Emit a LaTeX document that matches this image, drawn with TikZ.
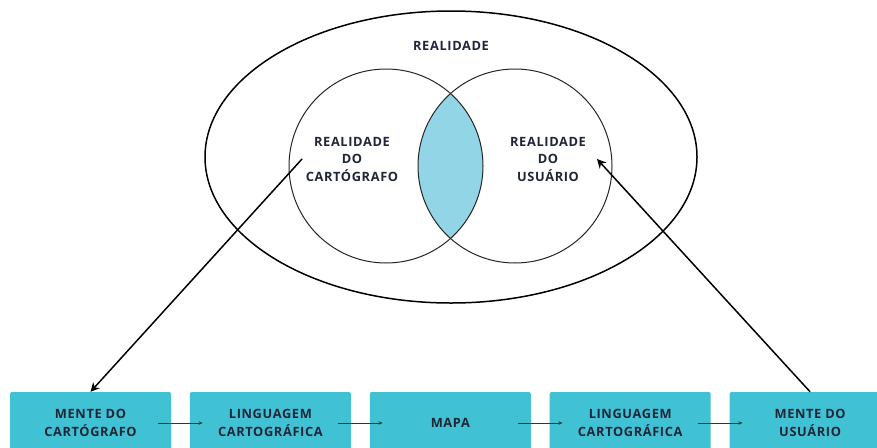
\documentclass[tikz,border=0pt]{standalone}
\usepackage{fontspec}
\setmainfont{Open Sans}[LetterSpace=5]
\usetikzlibrary{positioning,arrows.meta}
\definecolor{boxcyan}{RGB}{64,193,212}
\definecolor{lenscyan}{RGB}{146,213,230}
\definecolor{inkblue}{RGB}{30,38,56}

\begin{document}
\begin{tikzpicture}[x=1pt,y=-1pt,
  every node/.style={font=\bfseries\fontsize{12.8}{17.5}\selectfont, text=inkblue, align=center},
  mbox/.style={fill=boxcyan, rounded corners=2pt, minimum width=161pt, minimum height=62pt, inner sep=0pt},
  flow/.style={-{Stealth[length=4pt,width=3.5pt]}, black!80, line width=0.8pt},
  bigarrow/.style={-{Stealth[length=9pt,width=9pt]}, line width=1.5pt}]
\useasboundingbox (0,0) rectangle (877,447);
%realidade
\draw[line width=1.5pt] (451,157) ellipse [x radius=246, y radius=146];
\begin{scope}
\clip (386,166) circle [radius=97];
\fill[lenscyan] (515,166) circle [radius=97];
\end{scope}
\draw[black!85, line width=1pt] (386,166) circle [radius=97];
\draw[black!85, line width=1pt] (515,166) circle [radius=97];
\node (real) at (451,46) {REALIDADE};
\node (cart) at (352,159) {REALIDADE\\DO\\CARTÓGRAFO};
\node (usu) at (548,159) {REALIDADE\\DO\\USUÁRIO};
%boxes
\node[mbox] (m1) at (90.5,423) {MENTE DO\\CARTÓGRAFO};
\node[mbox, right=18.5pt of m1] (m2) {LINGUAGEM\\CARTOGRÁFICA};
\node[mbox, right=18.5pt of m2] (m3) {MAPA};
\node[mbox, right=18.5pt of m3] (m4) {LINGUAGEM\\CARTOGRÁFICA};
\node[mbox, right=18.5pt of m4] (m5) {MENTE DO\\USUÁRIO};
\draw[flow] ([xshift=-13pt]m1.east) -- ([xshift=13pt]m2.west);
\draw[flow] ([xshift=-13pt]m2.east) -- ([xshift=13pt]m3.west);
\draw[flow] ([xshift=-13pt]m3.east) -- ([xshift=13pt]m4.west);
\draw[flow] ([xshift=-13pt]m4.east) -- ([xshift=13pt]m5.west);
%big arrows
\coordinate (cs) at (302,159);
\coordinate (us) at (597,159);
\draw[bigarrow] (cs) -- (m1.north);
\draw[bigarrow] (m5.north) -- (us);
\end{tikzpicture}
\end{document}
